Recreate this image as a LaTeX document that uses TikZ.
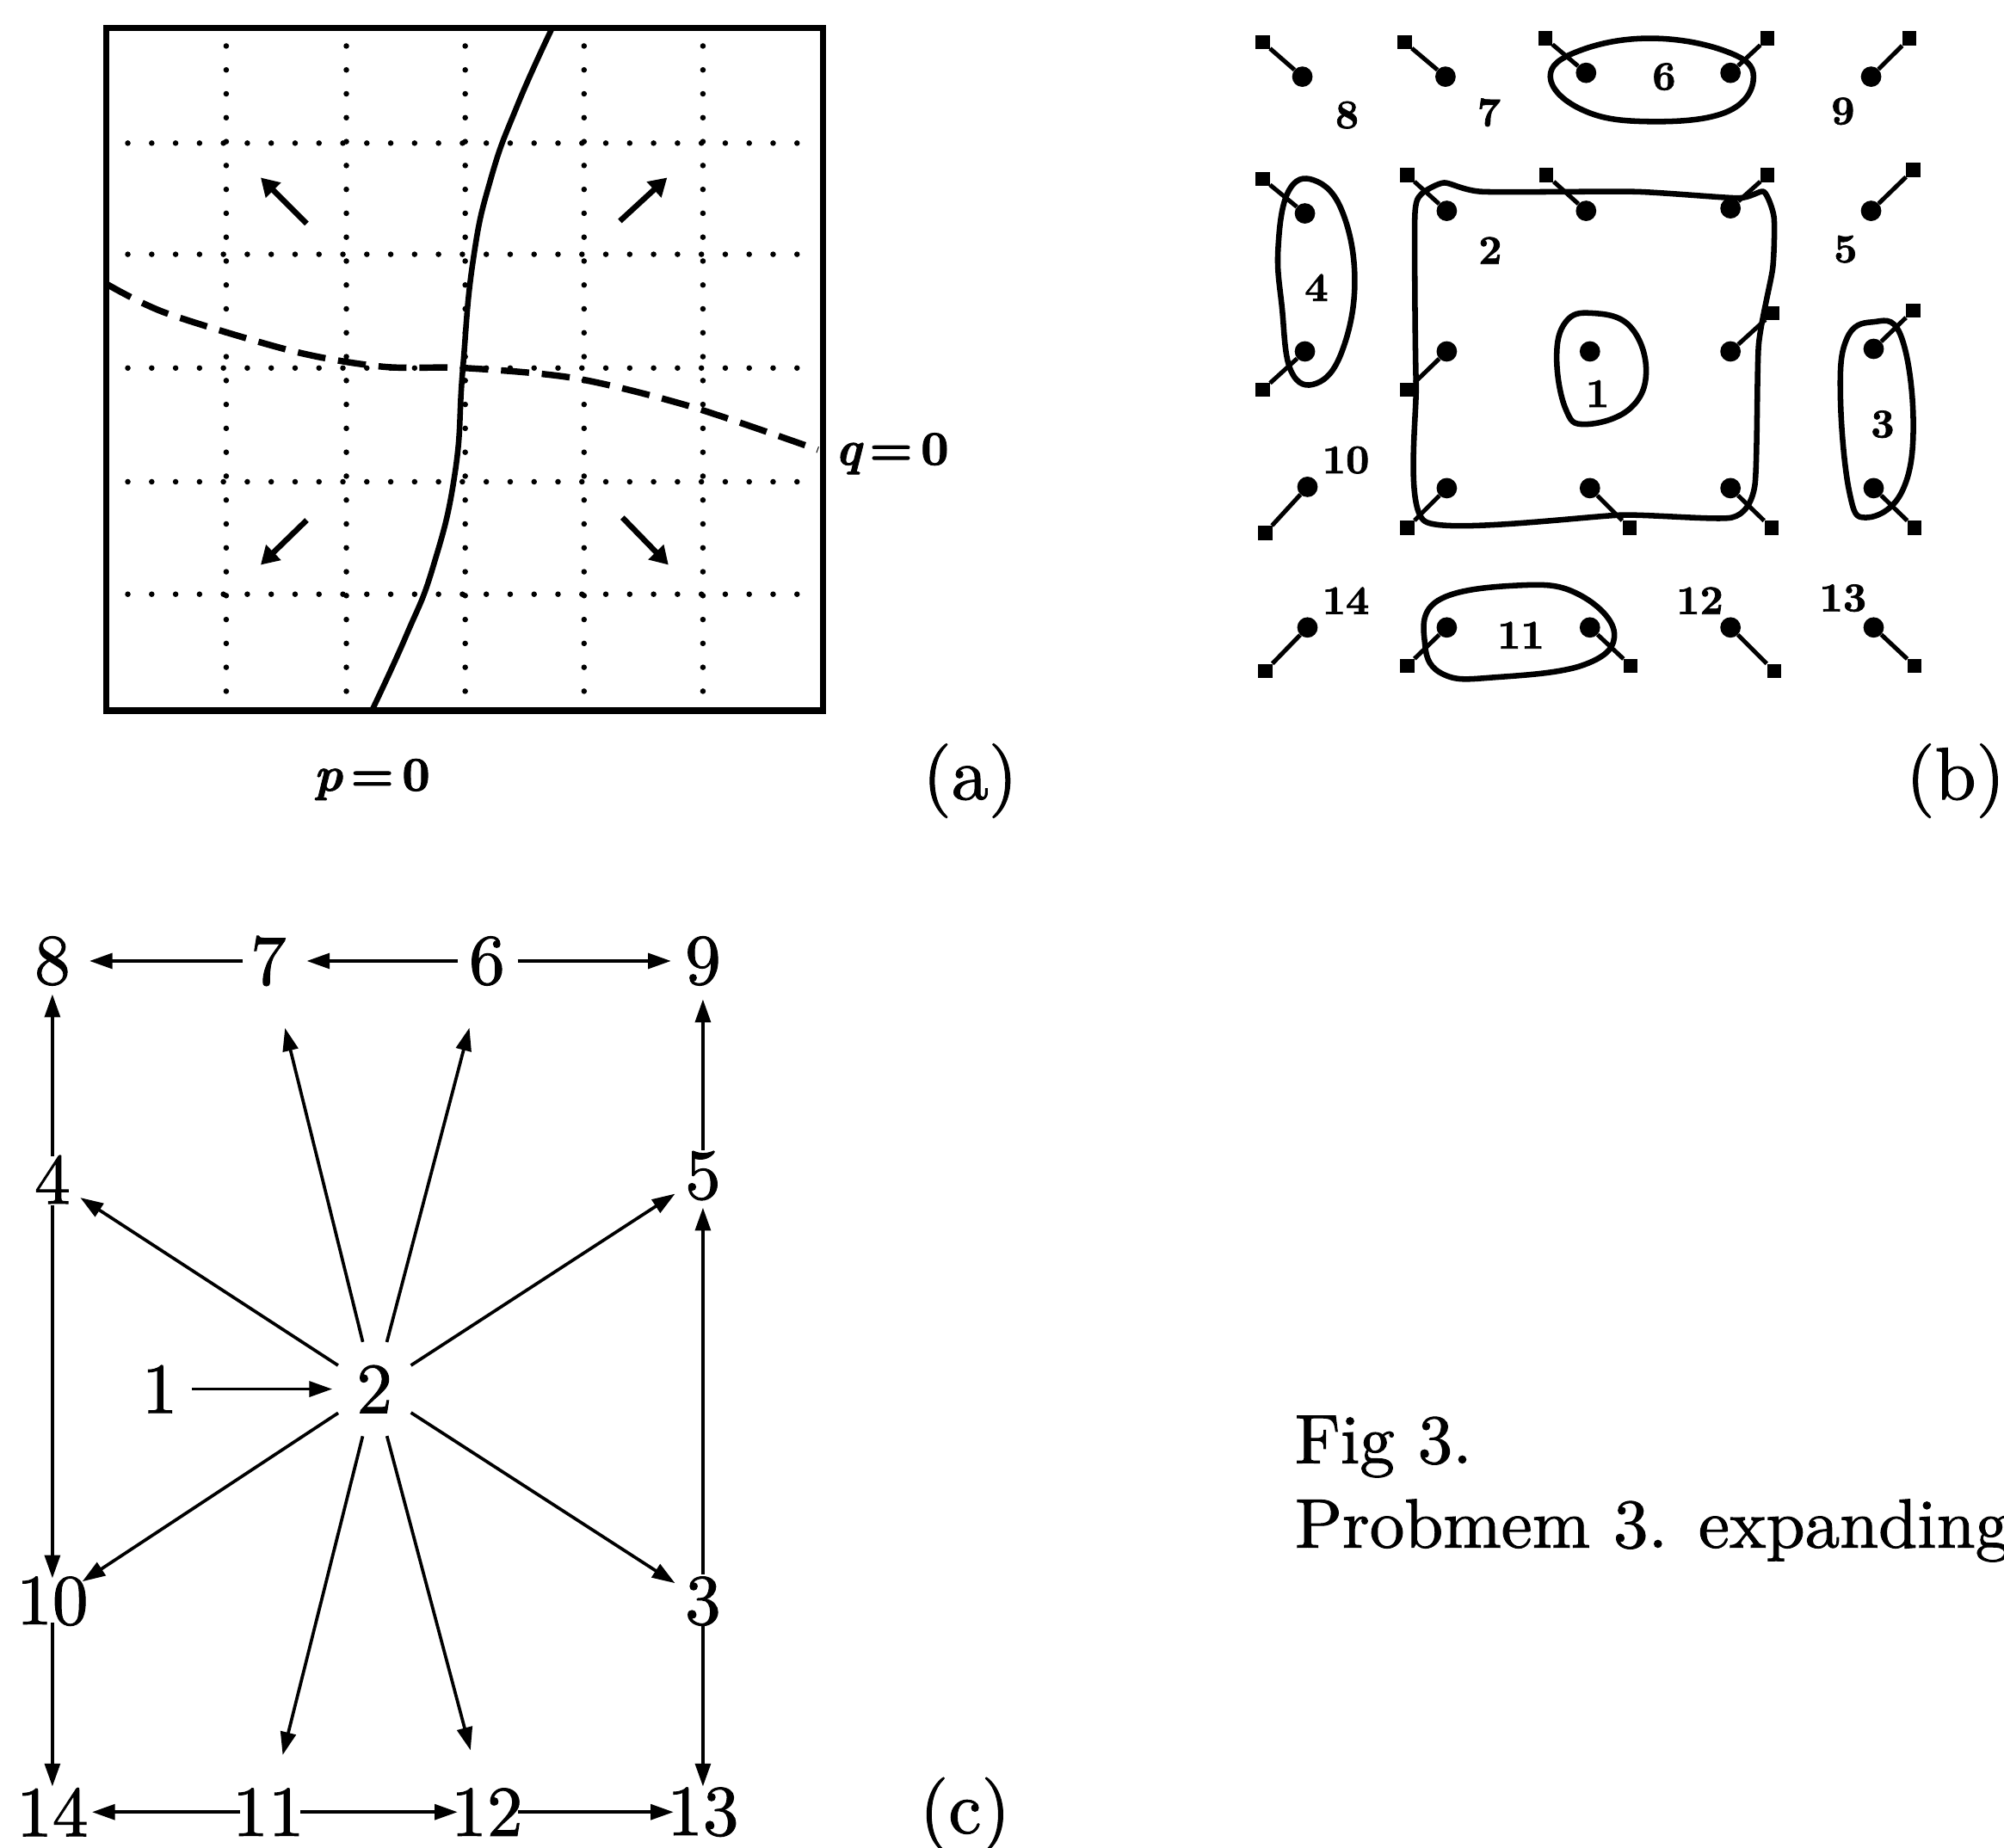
\documentclass[tikz,border=0pt]{standalone}
\usepackage{fontspec}
\setmainfont{lmroman10-regular}[Extension=.otf]
\newfontfamily\thickrm{lmroman10-regular}[Extension=.otf,FakeBold=1.2]
\newfontfamily\heavyrm{lmroman10-bold}[Extension=.otf,FakeBold=1.5]
\newfontfamily\heavyit{lmroman10-bolditalic}[Extension=.otf,FakeBold=1.5]
\usetikzlibrary{arrows.meta}
\tikzset{
  gridline/.style={line width=4.4pt,line cap=round,dash pattern=on 0pt off 18.7pt},
  frameline/.style={line width=5pt,line cap=rect},
  curveline/.style={line width=4.4pt},
  dashline/.style={line width=5pt,dash pattern=on 22pt off 10pt},
  fieldarrow/.style={line width=4.4pt,-{Triangle[length=14pt,width=16pt]}},
  dotnode/.style={circle,fill=black,inner sep=0pt,minimum size=16pt},
  sqnode/.style={rectangle,fill=black,inner sep=0pt,minimum size=11pt},
  stem/.style={line width=3.4pt},
  loopline/.style={line width=4.4pt,line join=round},
  smalllabel/.style={font=\fontsize{32}{34}\selectfont\heavyrm,inner sep=0pt},
  eqlabel/.style={font=\fontsize{38}{40}\selectfont\heavyrm,inner sep=0pt},
  statelabel/.style={font=\fontsize{56}{58}\selectfont\thickrm,inner sep=0pt},
  panellabel/.style={font=\fontsize{58}{60}\selectfont\thickrm,inner sep=0pt},
  capt/.style={font=\fontsize{54.5}{60}\selectfont\thickrm,inner sep=0pt,anchor=base west},
  flow/.style={line width=2.5pt,-{Triangle[length=18pt,width=12pt]}}
}
\begin{document}
\begin{tikzpicture}[x=1pt,y=-1pt]
\useasboundingbox (0,0) rectangle (1568,1445.5);
\clip (0,0) rectangle (1568,1445.5);
\fill[white] (0,0) rectangle (1568,1445.5);

% ---------- panel (a)
\foreach \gx in {177,271,364,457,550}
  \draw[gridline] (\gx,36) -- (\gx,546);
\foreach \gy in {112,199,288,377,465}
  \draw[gridline] (100,\gy) -- (636,\gy);
\draw[frameline] (83,22) rectangle (644,556);
\draw[curveline] plot[smooth,tension=0.8] coordinates {(432,22) (405,82) (384,140) (370,205) (362,290) (356,370) (339,443) (318,497) (291,556)};
\draw[dashline] plot[smooth] coordinates {(83,222) (130,245) (230,275) (300,287) (364,288) (450,296) (540,318) (640,352)};
\draw[fieldarrow] (240,175) -- (204,139);
\draw[fieldarrow] (485,173) -- (522,139);
\draw[fieldarrow] (240,407) -- (204,442);
\draw[fieldarrow] (487,405) -- (523,442);
\node[eqlabel] (qlabel) at (698,355) {{\heavyit q}\,=\,0};
\node[eqlabel] (plabel) at (291,610) {{\heavyit p}\,=\,0};
\node[panellabel] (labela) at (759,611) {(a)};

% ---------- panel (b)
\foreach \n/\dx/\dy/\sx/\sy in {
  a/1019/60/988/33, b/1131/60/1099/33, c/1241/57/1209/30, e/1354/57/1383/30, f/1464/60/1494/30,
  g/1021/167/988/140, h/1132/165/1101/137, i/1241/165/1210/137, j/1354/163/1383/137, k/1464/165/1497/133,
  l/1021/275/988/305, m/1132/275/1101/305, o/1354/275/1387/245, p/1466/273/1497/243,
  q/1023/381/990/417, r/1132/382/1101/413, s/1244/382/1275/413, t/1354/382/1386/413, u/1466/382/1498/413,
  v/1023/491/990/525, w/1132/491/1101/521, x/1244/491/1276/521, y/1354/491/1388/525, z/1466/491/1498/521}
{
  \node[dotnode] (d\n) at (\dx,\dy) {};
  \node[sqnode] (s\n) at (\sx,\sy) {};
  \draw[stem] (d\n) -- (s\n);
}
\node[dotnode] (dcentre) at (1244,275) {};

\draw[loopline] plot[smooth cycle,tension=0.7] coordinates {(1291,30) (1350,40) (1372,60) (1350,88) (1285,95) (1236,85) (1213,60) (1235,40)};
\draw[loopline] plot[smooth cycle,tension=0.7] coordinates {(1028,141) (1050,165) (1060,220) (1050,275) (1030,300) (1010,290) (1003,240) (1000,195) (1008,150)};
\draw[loopline] plot[smooth cycle,tension=0.35] coordinates {(1112,152) (1130,143) (1160,150) (1280,150) (1360,155) (1380,150) (1388,170) (1387,210) (1376,270) (1373,380) (1355,405) (1270,403) (1115,408) (1108,300) (1107,170)};
\draw[loopline] plot[smooth cycle,tension=0.7] coordinates {(1245,245) (1275,255) (1288,290) (1275,320) (1240,332) (1225,320) (1218,280) (1225,252)};
\draw[loopline] plot[smooth cycle,tension=0.7] coordinates {(1465,252) (1487,262) (1497,330) (1488,385) (1460,405) (1447,385) (1440,310) (1445,265)};
\draw[loopline] plot[smooth cycle,tension=0.7] coordinates {(1190,458) (1235,465) (1263,495) (1240,520) (1170,530) (1130,528) (1115,505) (1125,470)};

\node[smalllabel] (b8) at (1054,90) {8};
\node[smalllabel] (b7) at (1165,88) {7};
\node[smalllabel] (b6) at (1302,60) {6};
\node[smalllabel] (b9) at (1442,87) {9};
\node[smalllabel] (b2) at (1166,196) {2};
\node[smalllabel] (b5) at (1444,195) {5};
\node[smalllabel] (b4) at (1030,225) {4};
\node[smalllabel] (b1) at (1250,308) {1};
\node[smalllabel] (b3) at (1473,332) {3};
\node[smalllabel] (b10) at (1053,360) {10};
\node[smalllabel] (b14) at (1053,470) {14};
\node[smalllabel] (b11) at (1190,497) {11};
\node[smalllabel] (b12) at (1330,470) {12};
\node[smalllabel] (b13) at (1442,468) {13};
\node[panellabel] (labelb) at (1530,611) {(b)};

% ---------- panel (c)
\foreach \n/\cx/\cy in {8/41/752,7/210/752,6/381/752,9/550/752,4/41/923,5/550/920,1/125/1087,2/293/1087,10/41/1253,3/550/1253,14/41/1418,11/210/1418,12/381/1418,13/550/1418}
  \node[statelabel] (n\n) at (\cx,\cy) {\n};

\foreach \src/\dst/\sa/\sb in {
  7/8/20/29, 6/7/23/30, 6/9/24/25, 1/2/25/33,
  4/8/18/26, 4/10/20/18, 10/14/17/20,
  5/9/20/30, 3/5/21/25, 3/13/19/20,
  11/14/22/31, 11/12/25/23, 12/13/24/23,
  2/7/38/54, 2/6/38/54, 2/4/34/26, 2/5/34/26,
  2/10/34/28, 2/3/34/26, 2/11/38/46, 2/12/38/50}
  \draw[flow,shorten <=\sa pt,shorten >=\sb pt] (n\src.center) -- (n\dst.center);
\node[panellabel] (labelc) at (755,1420) {(c)};

% ---------- caption
\node[capt] (cap1) at (1013,1145) {Fig 3.};
\node[capt] (cap2) at (1013,1211) {Probmem 3. expanding};
\end{tikzpicture}
\end{document}
